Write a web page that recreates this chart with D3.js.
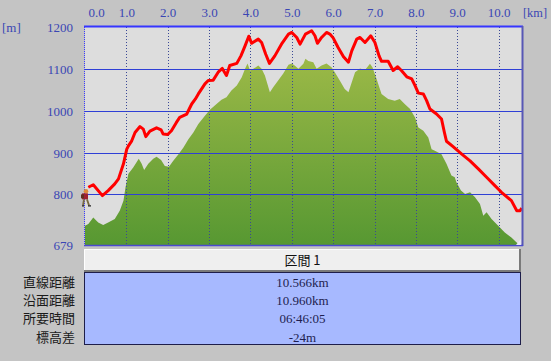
<!DOCTYPE html>
<html><head><meta charset="utf-8">
<script src="https://cdn.jsdelivr.net/npm/d3@7"></script>
<style>
html,body{margin:0;padding:0;background:#c4c4c4;}
svg{display:block;}
</style></head>
<body>
<svg id="chart" width="551" height="361"></svg>
<script>
// ---- data ----
const xTicks = [0,1,2,3,4,5,6,7,8,9,10];
const yTicks = [679,800,900,1000,1100,1200];
const gridY = [800,900,1000,1100];
const totalKm = 10.566;

// terrain profile (green area)
const terrainKm = [0.00,0.08,0.20,0.32,0.44,0.56,0.72,0.84,0.93,0.98,1.05,1.17,1.30,1.37,1.43,1.53,1.65,1.73,1.84,1.93,2.03,2.13,2.26,2.38,2.50,2.62,2.74,2.90,3.02,3.18,3.30,3.42,3.54,3.67,3.79,3.87,3.93,3.99,4.07,4.19,4.27,4.35,4.47,4.55,4.67,4.79,4.92,5.00,5.07,5.16,5.28,5.33,5.40,5.52,5.60,5.72,5.84,5.96,6.04,6.16,6.28,6.37,6.45,6.53,6.65,6.77,6.89,6.95,7.05,7.17,7.33,7.49,7.61,7.73,7.86,7.98,8.06,8.18,8.30,8.38,8.46,8.62,8.74,8.86,8.94,8.98,9.09,9.19,9.31,9.43,9.55,9.63,9.71,9.83,9.99,10.15,10.31,10.48,10.52,10.566];
const terrainElev = [725,729,745,733,727,733,741,761,785,817,849,865,885,873,858,873,885,890,882,868,866,880,896,912,932,948,968,988,1002,1016,1026,1032,1048,1060,1080,1100,1113,1096,1100,1108,1100,1084,1044,1056,1072,1088,1110,1113,1108,1100,1112,1124,1119,1116,1100,1108,1113,1104,1092,1072,1052,1044,1068,1092,1101,1097,1112,1104,1076,1040,1028,1024,1028,1016,1004,984,960,952,936,908,904,896,873,845,841,829,809,801,805,793,777,749,757,741,725,709,697,681,679,679];

// GPS track altitude (red line)
const trackKm = [0.08,0.20,0.42,0.56,0.72,0.81,0.93,1.01,1.05,1.13,1.21,1.33,1.41,1.47,1.57,1.73,1.84,1.89,2.00,2.09,2.21,2.29,2.46,2.58,2.67,2.74,2.90,2.98,3.10,3.22,3.32,3.42,3.50,3.67,3.77,3.87,3.96,4.03,4.19,4.27,4.37,4.46,4.59,4.75,4.92,5.00,5.12,5.20,5.33,5.48,5.56,5.62,5.72,5.84,5.92,6.00,6.12,6.25,6.37,6.45,6.57,6.65,6.77,6.91,7.01,7.11,7.17,7.33,7.45,7.56,7.65,7.78,7.90,7.98,8.06,8.18,8.26,8.34,8.50,8.62,8.69,8.74,8.90,9.11,9.31,9.51,9.71,9.91,10.07,10.31,10.44,10.52,10.56];
const trackElev = [817,823,797,809,825,837,873,908,916,928,948,962,956,938,951,959,954,944,943,952,972,984,992,1016,1028,1040,1064,1072,1073,1092,1101,1084,1108,1113,1131,1155,1178,1161,1171,1163,1135,1113,1131,1159,1183,1187,1175,1159,1183,1191,1179,1161,1175,1187,1183,1174,1151,1129,1116,1143,1171,1175,1163,1179,1163,1131,1118,1118,1096,1105,1096,1081,1076,1060,1042,1040,1024,1004,992,980,948,927,914,896,880,861,841,821,805,785,761,761,767];

const sectionTitle = "区間 1";
const rowLabels = ["直線距離","沿面距離","所要時間","標高差"];
const rowValues = ["10.566km","10.960km","06:46:05","-24m"];

// ---- layout ----
const svg = d3.select("#chart");
const L = 85, R = 522, T = 27, B = 245;
const x = d3.scaleLinear().domain([0,totalKm]).range([L,R]);
const y = d3.scaleLinear().domain([679,1200]).range([B,T]);

const defs = svg.append("defs");
const grad = defs.append("linearGradient").attr("id","g").attr("gradientUnits","userSpaceOnUse")
  .attr("x1",0).attr("x2",0).attr("y1",T+30).attr("y2",B);
grad.append("stop").attr("offset","0%").attr("stop-color","#9cb947");
grad.append("stop").attr("offset","100%").attr("stop-color","#579832");
defs.append("clipPath").attr("id","clip").append("rect").attr("x",L).attr("y",T).attr("width",R-L).attr("height",B-T);

// plot bg
svg.append("rect").attr("x",L).attr("y",T).attr("width",R-L).attr("height",B-T).attr("fill","#dddddd");

const plot = svg.append("g").attr("clip-path","url(#clip)");
const terrain = terrainKm.map((k,i)=>({k,e:terrainElev[i]}));
plot.append("path").datum(terrain)
  .attr("d", d3.area().x(d=>x(d.k)).y0(y(679)+2).y1(d=>y(d.e)))
  .attr("fill","url(#g)");

// grid
plot.selectAll(".gy").data(gridY).join("line")
  .attr("x1",L).attr("x2",R).attr("y1",d=>Math.round(y(d))+0.5).attr("y2",d=>Math.round(y(d))+0.5)
  .attr("stroke","#2f3fd6").attr("stroke-width",1);
plot.selectAll(".gx").data(xTicks.filter(d=>d>0)).join("line")
  .attr("x1",d=>Math.round(x(d))+0.5).attr("x2",d=>Math.round(x(d))+0.5).attr("y1",T).attr("y2",B)
  .attr("stroke","#3a4896").attr("stroke-width",1).attr("stroke-dasharray","1,2");

// red track
const track = trackKm.map((k,i)=>({k,e:trackElev[i]}));
svg.append("path").datum(track)
  .attr("d", d3.line().x(d=>x(d.k)).y(d=>y(d.e)))
  .attr("fill","none").attr("stroke","#ff0000").attr("stroke-width",3).attr("stroke-linejoin","round");

// borders
svg.append("line").attr("x1",L-1).attr("x2",R+1).attr("y1",T-0.5).attr("y2",T-0.5).attr("stroke","#3535ff").attr("stroke-width",2);
svg.append("line").attr("x1",L-0.5).attr("x2",L-0.5).attr("y1",T).attr("y2",B+1).attr("stroke","#3a3aff").attr("stroke-width",1).attr("stroke-dasharray","1,1");
svg.append("line").attr("x1",R+0.5).attr("x2",R+0.5).attr("y1",T-1).attr("y2",B+1).attr("stroke","#5757b5").attr("stroke-width",2);
svg.append("line").attr("x1",L-1).attr("x2",R+1).attr("y1",B+0.5).attr("y2",B+0.5).attr("stroke","#4a4ad0").attr("stroke-width",1.5);

// small corner mark
svg.append("path").attr("d",`M${R-1},${B-6}L${R-1},${B}L${R-6},${B}Z`).attr("fill","#e8e8f4");

// hiker icon at start
const hk = svg.append("g").attr("transform",`translate(${x(0)},${y(800)})`);
hk.append("circle").attr("cx",1).attr("cy",-3).attr("r",2.3).attr("fill","#e08a3a");
hk.append("rect").attr("x",-3).attr("y",-1).attr("width",6).attr("height",6).attr("fill","#a02030");
hk.append("rect").attr("x",-4).attr("y",0).attr("width",3).attr("height",4).attr("fill","#603020");
hk.append("path").attr("d","M-1,5L-2,11M2,5L4,11").attr("stroke","#7a6a40").attr("stroke-width",1.8);
hk.append("path").attr("d","M-3,11.5L-1,11.5M3,11.5L6,11.5").attr("stroke","#202020").attr("stroke-width",1.2);

// axes
const axisFont = "'Liberation Serif', 'DejaVu Serif', serif";
const xa = svg.append("g").attr("transform",`translate(0,${17})`)
  .call(d3.axisTop(x).tickValues(xTicks).tickFormat(d3.format(".1f")).tickSize(0).tickPadding(0));
xa.select(".domain").remove();
xa.selectAll("text").attr("fill","#3a46b4").attr("font-family",axisFont).attr("font-size",13)
  .attr("dy","0").attr("y",0)
  .each(function(d){ if(d===0){ d3.select(this).attr("text-anchor","start").attr("dx",3);} });

const ya = svg.append("g").attr("transform",`translate(${73},0)`)
  .call(d3.axisLeft(y).tickValues(yTicks).tickFormat(d3.format("d")).tickSize(0).tickPadding(0));
ya.select(".domain").remove();
ya.selectAll("text").attr("fill","#3a46b4").attr("font-family",axisFont).attr("font-size",13).attr("dy","0.35em");

svg.append("text").attr("x",2).attr("y",32).text("[m]").attr("fill","#3a46b4").attr("font-family",axisFont).attr("font-size",13);
svg.append("text").attr("x",523).attr("y",17).text("[km]").attr("fill","#3a46b4").attr("font-family",axisFont).attr("font-size",13)
  .attr("textLength",24).attr("lengthAdjust","spacingAndGlyphs");

// table
const tx0 = 84, tx1 = 521;
const hy0 = 249, hy1 = 272, by1 = 345;
svg.append("rect").attr("x",tx0).attr("y",hy0).attr("width",tx1-tx0).attr("height",hy1-hy0).attr("fill","#efefef");
svg.append("path").attr("d",`M${tx0+0.5},${hy1}V${hy0+0.5}H${tx1}`).attr("fill","none").attr("stroke","#ffffff");
svg.append("path").attr("d",`M${tx0},${hy1-1}H${tx1-1}V${hy0}`).attr("fill","none").attr("stroke","#7a7a7a").attr("stroke-width",2);
svg.append("text").attr("x",(tx0+tx1)/2).attr("y",265).attr("text-anchor","middle").text(sectionTitle)
  .attr("font-family","'Noto Sans CJK JP', sans-serif").attr("font-size",13).attr("fill","#111");

svg.append("rect").attr("x",tx0+0.5).attr("y",hy1+0.5).attr("width",tx1-tx0-1).attr("height",by1-hy1-1)
  .attr("fill","#a7b9ff").attr("stroke","#1e1e4a").attr("stroke-width",1);

const rowY = d3.scalePoint().domain(d3.range(rowLabels.length)).range([282,337]);
svg.selectAll(".rl").data(rowLabels).join("text")
  .attr("x",75).attr("y",(d,i)=>rowY(i)).attr("dy","0.36em").attr("text-anchor","end").text(d=>d)
  .attr("font-family","'Noto Sans CJK JP', sans-serif").attr("font-size",13).attr("fill","#1a1a1a");
svg.selectAll(".rv").data(rowValues).join("text")
  .attr("x",(tx0+tx1)/2).attr("y",(d,i)=>rowY(i)).attr("dy","0.35em").attr("text-anchor","middle").text(d=>d)
  .attr("font-family",axisFont).attr("font-size",13).attr("fill","#1e1e50");
</script>
</body></html>
